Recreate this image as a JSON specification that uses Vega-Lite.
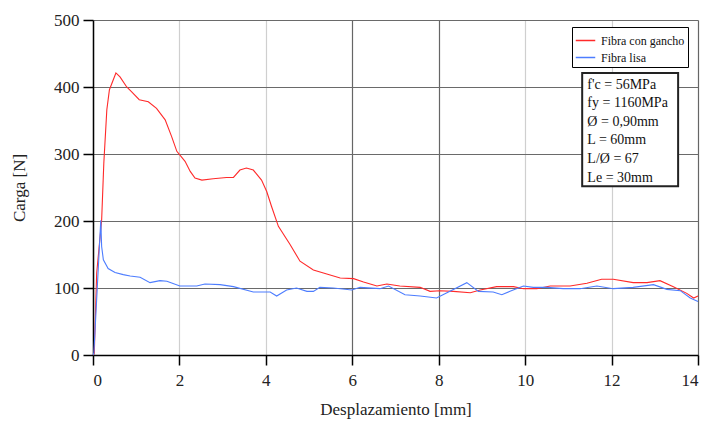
{
  "$schema": "https://vega.github.io/schema/vega-lite/v6.json",
  "width": 605,
  "height": 335,
  "autosize": {"type": "none"},
  "padding": {"left": 93, "top": 20, "right": 9, "bottom": 66},
  "background": "white",
  "config": {
    "font": "Liberation Serif",
    "view": {"stroke": null},
    "text": {"font": "Liberation Serif"},
    "axis": {
      "labelFont": "Liberation Serif",
      "titleFont": "Liberation Serif",
      "labelFontSize": 17,
      "titleFontSize": 17,
      "titleFontWeight": "normal",
      "labelColor": "#222",
      "titleColor": "#222",
      "domainColor": "#000",
      "domainWidth": 1.5,
      "tickColor": "#000",
      "tickWidth": 1.5,
      "tickSize": 10,
      "gridWidth": 1.2
    },
    "legend": {"labelFont": "Liberation Serif"}
  },
  "datasets": {
    "curves": [
      {"serie": "Fibra con gancho", "desp": 0, "carga": 0},
      {"serie": "Fibra con gancho", "desp": 0.03, "carga": 3},
      {"serie": "Fibra con gancho", "desp": 0.085, "carga": 122},
      {"serie": "Fibra con gancho", "desp": 0.2, "carga": 201},
      {"serie": "Fibra con gancho", "desp": 0.25, "carga": 286},
      {"serie": "Fibra con gancho", "desp": 0.32, "carga": 366},
      {"serie": "Fibra con gancho", "desp": 0.38, "carga": 396},
      {"serie": "Fibra con gancho", "desp": 0.53, "carga": 421},
      {"serie": "Fibra con gancho", "desp": 0.625, "carga": 415},
      {"serie": "Fibra con gancho", "desp": 0.78, "carga": 400},
      {"serie": "Fibra con gancho", "desp": 0.89, "carga": 393},
      {"serie": "Fibra con gancho", "desp": 1.07, "carga": 381},
      {"serie": "Fibra con gancho", "desp": 1.28, "carga": 378},
      {"serie": "Fibra con gancho", "desp": 1.47, "carga": 368},
      {"serie": "Fibra con gancho", "desp": 1.67, "carga": 351},
      {"serie": "Fibra con gancho", "desp": 1.82, "carga": 326},
      {"serie": "Fibra con gancho", "desp": 1.94, "carga": 304},
      {"serie": "Fibra con gancho", "desp": 2.13, "carga": 289},
      {"serie": "Fibra con gancho", "desp": 2.25, "carga": 274},
      {"serie": "Fibra con gancho", "desp": 2.36, "carga": 264},
      {"serie": "Fibra con gancho", "desp": 2.52, "carga": 261},
      {"serie": "Fibra con gancho", "desp": 2.78, "carga": 263},
      {"serie": "Fibra con gancho", "desp": 3.09, "carga": 265},
      {"serie": "Fibra con gancho", "desp": 3.25, "carga": 265},
      {"serie": "Fibra con gancho", "desp": 3.4, "carga": 276},
      {"serie": "Fibra con gancho", "desp": 3.55, "carga": 279},
      {"serie": "Fibra con gancho", "desp": 3.71, "carga": 276},
      {"serie": "Fibra con gancho", "desp": 3.9, "carga": 261},
      {"serie": "Fibra con gancho", "desp": 4.02, "carga": 244},
      {"serie": "Fibra con gancho", "desp": 4.13, "carga": 222},
      {"serie": "Fibra con gancho", "desp": 4.29, "carga": 192},
      {"serie": "Fibra con gancho", "desp": 4.56, "carga": 165},
      {"serie": "Fibra con gancho", "desp": 4.79, "carga": 140},
      {"serie": "Fibra con gancho", "desp": 5.1, "carga": 127},
      {"serie": "Fibra con gancho", "desp": 5.41, "carga": 121},
      {"serie": "Fibra con gancho", "desp": 5.72, "carga": 115},
      {"serie": "Fibra con gancho", "desp": 6.03, "carga": 114},
      {"serie": "Fibra con gancho", "desp": 6.26, "carga": 109},
      {"serie": "Fibra con gancho", "desp": 6.57, "carga": 103},
      {"serie": "Fibra con gancho", "desp": 6.8, "carga": 106},
      {"serie": "Fibra con gancho", "desp": 7.1, "carga": 103},
      {"serie": "Fibra con gancho", "desp": 7.57, "carga": 101},
      {"serie": "Fibra con gancho", "desp": 7.8, "carga": 95},
      {"serie": "Fibra con gancho", "desp": 8.03, "carga": 96},
      {"serie": "Fibra con gancho", "desp": 8.34, "carga": 95},
      {"serie": "Fibra con gancho", "desp": 8.73, "carga": 93},
      {"serie": "Fibra con gancho", "desp": 8.96, "carga": 97},
      {"serie": "Fibra con gancho", "desp": 9.34, "carga": 102},
      {"serie": "Fibra con gancho", "desp": 9.73, "carga": 102},
      {"serie": "Fibra con gancho", "desp": 9.96, "carga": 99},
      {"serie": "Fibra con gancho", "desp": 10.27, "carga": 99},
      {"serie": "Fibra con gancho", "desp": 10.58, "carga": 103},
      {"serie": "Fibra con gancho", "desp": 11.04, "carga": 103},
      {"serie": "Fibra con gancho", "desp": 11.43, "carga": 107},
      {"serie": "Fibra con gancho", "desp": 11.77, "carga": 113},
      {"serie": "Fibra con gancho", "desp": 12.04, "carga": 113},
      {"serie": "Fibra con gancho", "desp": 12.5, "carga": 108},
      {"serie": "Fibra con gancho", "desp": 12.82, "carga": 108},
      {"serie": "Fibra con gancho", "desp": 13.12, "carga": 111},
      {"serie": "Fibra con gancho", "desp": 13.43, "carga": 102},
      {"serie": "Fibra con gancho", "desp": 13.74, "carga": 92},
      {"serie": "Fibra con gancho", "desp": 13.9, "carga": 85},
      {"serie": "Fibra con gancho", "desp": 14.0, "carga": 88},
      {"serie": "Fibra lisa", "desp": 0, "carga": 0},
      {"serie": "Fibra lisa", "desp": 0.02, "carga": 3},
      {"serie": "Fibra lisa", "desp": 0.1, "carga": 102},
      {"serie": "Fibra lisa", "desp": 0.18, "carga": 201},
      {"serie": "Fibra lisa", "desp": 0.2, "carga": 162},
      {"serie": "Fibra lisa", "desp": 0.24, "carga": 142},
      {"serie": "Fibra lisa", "desp": 0.35, "carga": 129},
      {"serie": "Fibra lisa", "desp": 0.51, "carga": 123},
      {"serie": "Fibra lisa", "desp": 0.7, "carga": 120},
      {"serie": "Fibra lisa", "desp": 0.86, "carga": 118},
      {"serie": "Fibra lisa", "desp": 1.09, "carga": 116},
      {"serie": "Fibra lisa", "desp": 1.32, "carga": 108},
      {"serie": "Fibra lisa", "desp": 1.55, "carga": 111},
      {"serie": "Fibra lisa", "desp": 1.71, "carga": 110},
      {"serie": "Fibra lisa", "desp": 2.01, "carga": 103},
      {"serie": "Fibra lisa", "desp": 2.4, "carga": 103},
      {"serie": "Fibra lisa", "desp": 2.59, "carga": 106},
      {"serie": "Fibra lisa", "desp": 2.94, "carga": 105},
      {"serie": "Fibra lisa", "desp": 3.25, "carga": 102},
      {"serie": "Fibra lisa", "desp": 3.71, "carga": 94},
      {"serie": "Fibra lisa", "desp": 4.1, "carga": 94},
      {"serie": "Fibra lisa", "desp": 4.25, "carga": 88},
      {"serie": "Fibra lisa", "desp": 4.48, "carga": 97},
      {"serie": "Fibra lisa", "desp": 4.71, "carga": 100},
      {"serie": "Fibra lisa", "desp": 4.95, "carga": 95},
      {"serie": "Fibra lisa", "desp": 5.1, "carga": 95},
      {"serie": "Fibra lisa", "desp": 5.25, "carga": 101},
      {"serie": "Fibra lisa", "desp": 5.56, "carga": 100},
      {"serie": "Fibra lisa", "desp": 5.99, "carga": 97},
      {"serie": "Fibra lisa", "desp": 6.18, "carga": 101},
      {"serie": "Fibra lisa", "desp": 6.64, "carga": 99},
      {"serie": "Fibra lisa", "desp": 6.84, "carga": 103},
      {"serie": "Fibra lisa", "desp": 7.22, "carga": 90},
      {"serie": "Fibra lisa", "desp": 7.57, "carga": 88},
      {"serie": "Fibra lisa", "desp": 7.95, "carga": 85},
      {"serie": "Fibra lisa", "desp": 8.19, "carga": 93},
      {"serie": "Fibra lisa", "desp": 8.65, "carga": 108},
      {"serie": "Fibra lisa", "desp": 8.92, "carga": 95},
      {"serie": "Fibra lisa", "desp": 9.26, "carga": 94},
      {"serie": "Fibra lisa", "desp": 9.46, "carga": 90},
      {"serie": "Fibra lisa", "desp": 9.65, "carga": 95},
      {"serie": "Fibra lisa", "desp": 9.96, "carga": 103},
      {"serie": "Fibra lisa", "desp": 10.19, "carga": 101},
      {"serie": "Fibra lisa", "desp": 10.5, "carga": 101},
      {"serie": "Fibra lisa", "desp": 10.88, "carga": 99},
      {"serie": "Fibra lisa", "desp": 11.27, "carga": 99},
      {"serie": "Fibra lisa", "desp": 11.66, "carga": 103},
      {"serie": "Fibra lisa", "desp": 12.04, "carga": 99},
      {"serie": "Fibra lisa", "desp": 12.5, "carga": 101},
      {"serie": "Fibra lisa", "desp": 12.97, "carga": 105},
      {"serie": "Fibra lisa", "desp": 13.28, "carga": 98},
      {"serie": "Fibra lisa", "desp": 13.59, "carga": 96},
      {"serie": "Fibra lisa", "desp": 13.82, "carga": 85},
      {"serie": "Fibra lisa", "desp": 14.0, "carga": 80}
    ],
    "info": [
      {"texto": ["f'c = 56MPa", "fy = 1160MPa", "Ø = 0,90mm", "L = 60mm", "L/Ø = 67", "Le = 30mm"]}
    ]
  },
  "layer": [
    {
      "data": {"name": "curves"},
      "mark": {"type": "line", "strokeWidth": 1.1, "interpolate": "linear"},
      "encoding": {
        "x": {
          "field": "desp", "type": "quantitative",
          "scale": {"domain": [0, 14], "nice": false},
          "axis": {
            "title": "Desplazamiento [mm]",
            "values": [0, 2, 4, 6, 8, 10, 12, 14],
            "labelFont": "Liberation Serif",
            "titleFont": "Liberation Serif",
            "labelPadding": 7,
            "titlePadding": 13,
            "grid": true,
            "gridColor": {"condition": {"test": "datum.value == 6 || datum.value == 8 || datum.value == 14", "value": "#666"}, "value": "#cfcfcf"}
          }
        },
        "y": {
          "field": "carga", "type": "quantitative",
          "scale": {"domain": [0, 500], "nice": false},
          "axis": {
            "title": "Carga [N]",
            "values": [0, 100, 200, 300, 400, 500],
            "labelFont": "Liberation Serif",
            "titleFont": "Liberation Serif",
            "labelPadding": 4,
            "titlePadding": 25,
            "grid": true,
            "gridColor": "#6a6a6a"
          }
        },
        "color": {
          "field": "serie", "type": "nominal",
          "scale": {"domain": ["Fibra con gancho", "Fibra lisa"], "range": ["#ff2a2a", "#4d7dff"]},
          "legend": {
            "title": null,
            "orient": "none",
            "legendX": 479,
            "legendY": 7,
            "strokeColor": "#000",
            "fillColor": "#fff",
            "padding": 3,
            "labelFont": "Liberation Serif",
            "labelFontSize": 12,
            "labelColor": "#111",
            "symbolType": "stroke",
            "symbolSize": 380,
            "symbolStrokeWidth": 1.5,
            "rowPadding": -7,
            "labelOffset": 5
          }
        }
      }
    },
    {
      "data": {"name": "info"},
      "mark": {"type": "rect", "fill": "#fff", "stroke": "#222", "strokeWidth": 2},
      "encoding": {
        "x": {"datum": 11.32, "type": "quantitative"},
        "x2": {"datum": 13.54},
        "y": {"datum": 421, "type": "quantitative"},
        "y2": {"datum": 252}
      }
    },
    {
      "data": {"name": "info"},
      "mark": {
        "type": "text",
        "align": "left",
        "baseline": "top",
        "font": "Liberation Serif",
        "fontSize": 14,
        "lineHeight": 18.6,
        "color": "#111"
      },
      "encoding": {
        "x": {"datum": 11.44, "type": "quantitative"},
        "y": {"datum": 414, "type": "quantitative"},
        "text": {"field": "texto"}
      }
    }
  ]
}
